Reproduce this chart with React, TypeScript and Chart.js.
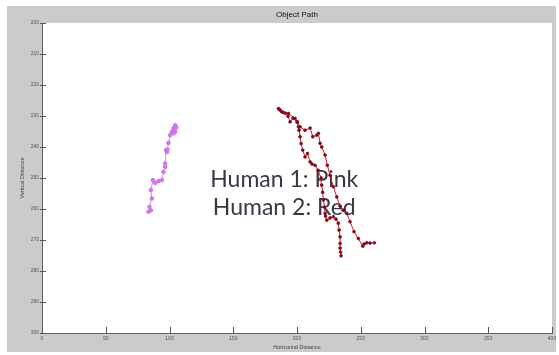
import React, { useEffect, useRef } from "react";
import { Chart, registerables } from "chart.js";

Chart.register(...registerables);

const chartTitle = "Object Path";
const xAxisTitle = "Horizontal Distance";
const yAxisTitle = "Vertical Distance";
const annotationLines = ["Human 1: Pink", "Human 2: Red"];

const xTicks = [0, 50, 100, 150, 200, 250, 300, 350, 400];
const yTicks = [200, 210, 220, 230, 240, 250, 260, 270, 280, 290, 300];

// Human 1 (pink) path
const human1X = [83.5, 85.4, 84.3, 86.2, 85.4, 87.0, 88.8, 91.4, 94.0, 95.3, 96.6, 96.6, 97.4, 98.0, 98.4, 99.2, 100.5, 101.9, 103.1, 104.5, 103.1, 104.5, 105.3];
const human1Y = [260.9, 260.4, 259.3, 256.6, 253.9, 250.7, 251.6, 251.0, 250.7, 248.0, 246.4, 245.3, 241.0, 241.6, 240.8, 238.7, 236.2, 235.1, 235.6, 235.1, 234.0, 233.0, 233.7];

// Human 2 (red) path
const human2X = [234.6, 234.2, 233.8, 233.8, 233.8, 233.0, 232.4, 230.6, 228.5, 225.9, 223.4, 222.4, 222.0, 221.6, 220.7, 220.1, 219.4, 218.9, 216.5, 214.2, 211.8, 210.3, 208.2, 206.3, 204.5, 203.2, 202.4, 201.6, 201.1, 200.1, 196.9, 194.6, 193.0, 190.7, 188.1, 186.2, 185.4, 186.8, 189.1, 193.3, 198.5, 200.3, 202.4, 206.3, 210.3, 212.4, 215.5, 216.8, 218.1, 219.4, 222.0, 223.8, 225.9, 228.5, 231.2, 233.8, 236.1, 239.0, 241.6, 244.7, 248.1, 251.6, 252.6, 254.7, 257.3, 260.7];
const human2Y = [275.1, 273.9, 272.6, 271.1, 269.0, 266.8, 264.6, 263.3, 262.5, 262.9, 263.6, 262.3, 261.4, 259.4, 257.1, 254.6, 252.3, 250.0, 247.5, 245.9, 245.5, 244.8, 242.1, 243.2, 241.0, 238.9, 236.7, 234.6, 233.5, 232.0, 230.7, 231.9, 230.1, 229.1, 228.7, 227.9, 227.6, 228.1, 228.8, 229.2, 230.8, 231.9, 233.5, 234.6, 233.9, 236.7, 236.2, 235.6, 238.8, 240.0, 242.6, 245.9, 249.1, 252.8, 256.1, 259.1, 260.4, 261.4, 264.1, 267.3, 269.5, 272.0, 271.3, 270.9, 271.0, 270.9];

const toPoints = (xs: number[], ys: number[]) => xs.map((x, i) => ({ x, y: ys[i] }));

const framePlugin = {
  id: "frame",
  beforeDraw(chart: any) {
    const { ctx, chartArea, width, height } = chart;
    ctx.save();
    ctx.fillStyle = "#ffffff";
    ctx.fillRect(0, 0, width, height);
    ctx.fillStyle = "#cbcbcb";
    ctx.fillRect(7, 6, 549, 346);
    ctx.fillStyle = "#ffffff";
    ctx.fillRect(chartArea.left, chartArea.top, chartArea.right - chartArea.left, chartArea.bottom - chartArea.top);
    ctx.restore();
  },
  beforeDatasetsDraw(chart: any) {
    const { ctx, chartArea } = chart;
    ctx.save();
    ctx.fillStyle = "#3a3646";
    ctx.font = "23px Lato, 'DejaVu Sans', sans-serif";
    ctx.textAlign = "center";
    ctx.textBaseline = "alphabetic";
    const cx = chart.scales.x.getPixelForValue(190);
    ctx.fillText(annotationLines[0], cx, chart.scales.y.getPixelForValue(252.8));
    ctx.fillText(annotationLines[1], cx, chart.scales.y.getPixelForValue(261.9));
    ctx.restore();
  },
  afterDraw(chart: any) {
    const { ctx, chartArea } = chart;
    const xs = chart.scales.x;
    const ys = chart.scales.y;
    ctx.save();
    ctx.strokeStyle = "#555555";
    ctx.lineWidth = 1;
    ctx.beginPath();
    xTicks.forEach((t) => {
      const px = Math.round(xs.getPixelForValue(t)) + 0.5;
      ctx.moveTo(px, chartArea.bottom);
      ctx.lineTo(px, chartArea.bottom - 6);
    });
    yTicks.forEach((t) => {
      const py = Math.round(ys.getPixelForValue(t)) + 0.5;
      ctx.moveTo(chartArea.left - 2, py);
      ctx.lineTo(chartArea.left + 4, py);
    });
    ctx.stroke();
    ctx.restore();
  },
};

export default function App() {
  const canvasRef = useRef<HTMLCanvasElement | null>(null);

  useEffect(() => {
    if (!canvasRef.current) return;
    const chart = new Chart(canvasRef.current, {
      type: "scatter",
      data: {
        datasets: [
          {
            label: "Human 1",
            data: toPoints(human1X, human1Y),
            showLine: true,
            borderColor: "#d68ae6",
            borderWidth: 1,
            backgroundColor: "#cf7ee8",
            pointBorderColor: "#c774e4",
            pointRadius: 1.8,
            pointBorderWidth: 1,
          },
          {
            label: "Human 2",
            data: toPoints(human2X, human2Y),
            showLine: true,
            borderColor: "#d01830",
            borderWidth: 1,
            backgroundColor: "#7a0a1c",
            pointBorderColor: "#8a0c20",
            pointRadius: 1.4,
            pointBorderWidth: 0.8,
          },
        ],
      },
      options: {
        responsive: false,
        animation: false,
        devicePixelRatio: 1,
        layout: { padding: { left: 0, right: 7, top: 0, bottom: 0 } },
        plugins: {
          legend: { display: false },
          tooltip: { enabled: false },
          title: {
            display: true,
            text: chartTitle,
            fullSize: false,
            color: "#111111",
            font: { size: 8, family: "'Liberation Sans', Arial, sans-serif", weight: "normal" },
            padding: { top: 10.2, bottom: 3.2 },
          },
        },
        scales: {
          x: {
            type: "linear",
            min: 0,
            max: 400,
            afterFit: (scale: any) => {
              scale.height = 22;
            },
            afterBuildTicks: (scale: any) => {
              scale.ticks = xTicks.map((v) => ({ value: v }));
            },
            ticks: {
              color: "#555555",
              font: { size: 5, family: "'Liberation Sans', Arial, sans-serif" },
              padding: 2.5,
              maxRotation: 0,
              autoSkip: false,
            },
            grid: { display: true, drawOnChartArea: false, drawTicks: false },
            border: { display: true, color: "#666666", width: 1 },
            title: {
              display: true,
              text: xAxisTitle,
              color: "#444444",
              font: { size: 5.5, family: "'Liberation Sans', Arial, sans-serif" },
              padding: { top: 0, bottom: 4.6 },
            },
          },
          y: {
            type: "linear",
            min: 200,
            max: 300,
            reverse: true,
            afterFit: (scale: any) => {
              scale.width = 42;
            },
            afterBuildTicks: (scale: any) => {
              scale.ticks = yTicks.map((v) => ({ value: v }));
            },
            ticks: {
              color: "#555555",
              font: { size: 5, family: "'Liberation Sans', Arial, sans-serif" },
              padding: 3,
              autoSkip: false,
            },
            grid: { display: true, drawOnChartArea: false, drawTicks: false },
            border: { display: true, color: "#666666", width: 1 },
            title: {
              display: true,
              text: yAxisTitle,
              color: "#444444",
              font: { size: 5.5, family: "'Liberation Sans', Arial, sans-serif" },
              padding: { top: 18.7, bottom: 0 },
            },
          },
        },
      },
      plugins: [framePlugin],
    });
    return () => chart.destroy();
  }, []);

  return (
    <div style={{ position: "absolute", left: 0, top: 0, width: 559, height: 355 }}>
      <canvas ref={canvasRef} width={559} height={355} />
    </div>
  );
}
